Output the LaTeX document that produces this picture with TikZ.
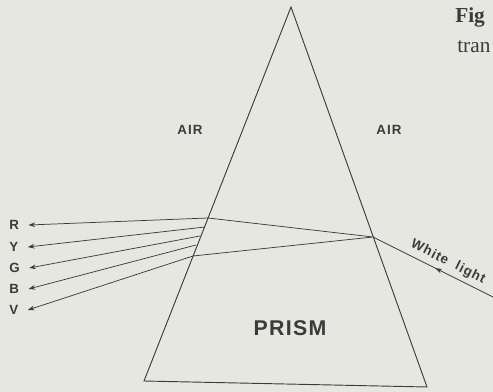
\documentclass[tikz,border=0pt]{standalone}
\usepackage{fontspec}
\setsansfont{Liberation Sans}
\setmainfont{Liberation Serif}
\usetikzlibrary{arrows.meta,decorations.markings}
\definecolor{paper}{RGB}{231,231,226}
\definecolor{ink}{RGB}{60,58,60}
\begin{document}
\begin{tikzpicture}[
    x=0.75pt, y=-0.75pt,
    edge/.style={draw=ink, line width=0.7pt},
    ray/.style={draw=ink, line width=0.55pt},
    outray/.style={ray, -{Stealth[length=5pt,width=3.5pt]}},
    colour/.style={text=ink, font=\sffamily\bfseries, anchor=west, inner sep=0pt},
    airlabel/.style={text=ink, font=\sffamily\bfseries\addfontfeature{LetterSpace=8}, inner sep=0pt},
    midarrow/.style={postaction={decorate}, decoration={markings,
      mark=at position 0.48 with {\arrow{Stealth[length=5pt,width=3.5pt]}}}}
  ]
    \fill[paper] (0,0) rectangle (493,392);
    \useasboundingbox (0,0) rectangle (493,392);
    % Prisma: vertice y base
    \coordinate (apex) at (291,7);
    \coordinate (bl) at (144,381);
    \coordinate (br) at (427,387);
    \draw[edge] (apex) -- (bl) -- (br) -- cycle;
    % puntos sobre las caras
    \coordinate (enter) at (373,237);
    \coordinate (fr) at (208,218);
    \coordinate (fy) at (205,227);
    \coordinate (fg) at (200,236);
    \coordinate (fb) at (196,245);
    \coordinate (fv) at (193,256);
    \coordinate (src) at (493,297);
    % luz blanca
    \draw[ray, midarrow] (src) -- (enter);
    \draw[ray] (enter) -- (fr) (enter) -- (fv);
    % colores
    \node[colour] (R) at (9,225) {R};
    \node[colour] (Y) at (9,247) {Y};
    \node[colour] (G) at (9,268) {G};
    \node[colour] (B) at (9,289) {B};
    \node[colour] (V) at (9,310) {V};
    \foreach \f/\c in {fr/R,fy/Y,fg/G,fb/B,fv/V} {
      \draw[outray] (\f) -- ([xshift=7pt]\c.east);
    }
    \node[airlabel] (airl) at (190,130) {AIR};
    \node[airlabel] (airr) at (389,130) {AIR};
    \node[text=ink, font=\sffamily\bfseries\fontsize{16}{18}\selectfont\addfontfeature{LetterSpace=6},
      inner sep=0pt] (prism) at (290,328) {PRISM};
    \node[text=ink, font=\sffamily\bfseries\addfontfeature{LetterSpace=7}, rotate=-26.6,
      inner sep=0pt] (white) at (448,262) {White\ \ light};
    % pie de figura (cortado)
    \node[text=ink, font=\rmfamily\bfseries\fontsize{16}{18}\selectfont, anchor=base west,
      inner sep=0pt] (fig) at (455,23) {Fig};
    \node[text=ink, font=\rmfamily\fontsize{16}{18}\selectfont, anchor=base west,
      inner sep=0pt] (tran) at (457,53) {tran};
  \end{tikzpicture}
\end{document}
